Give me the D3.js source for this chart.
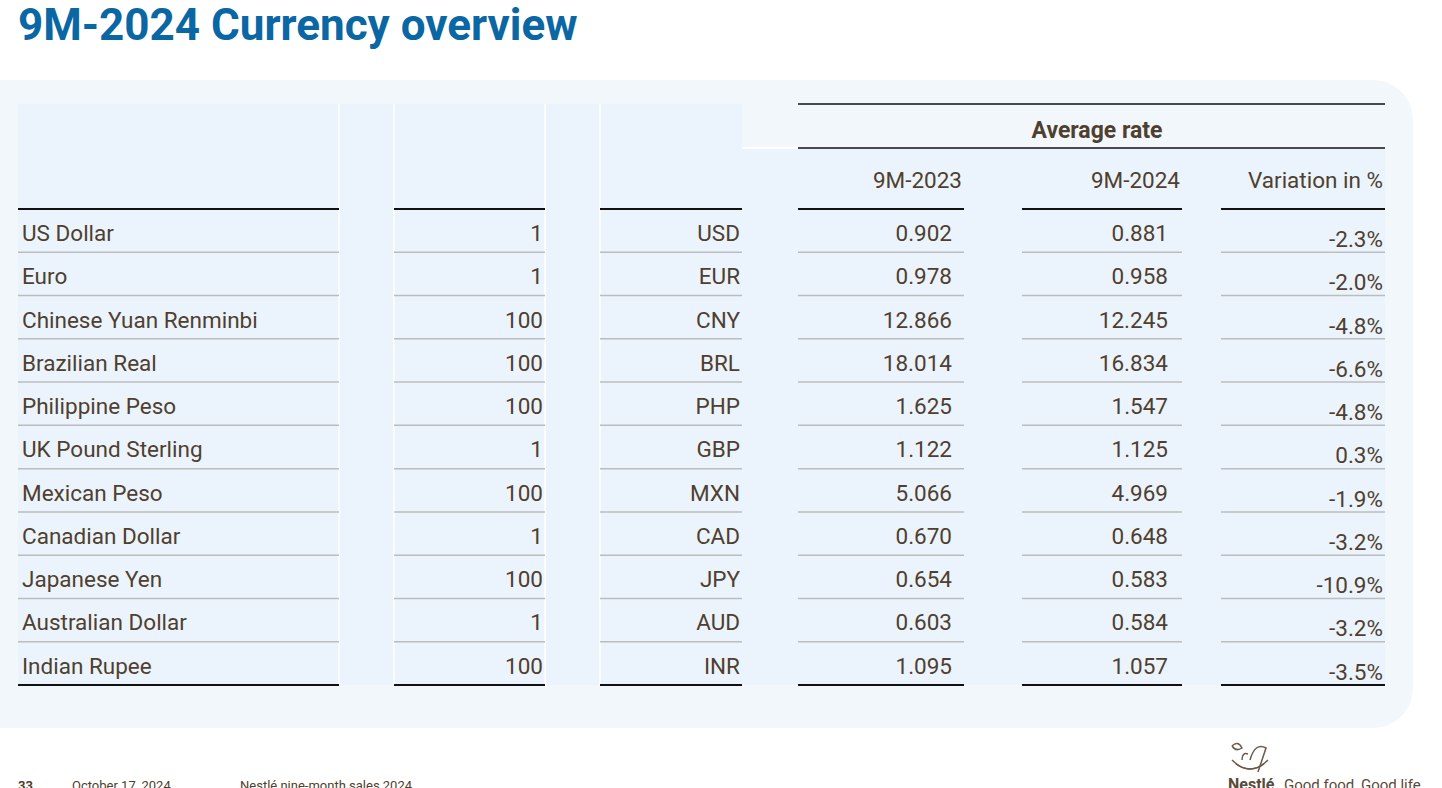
<!DOCTYPE html>
<html lang="en">
<head>
<meta charset="utf-8">
<title>9M-2024 Currency overview</title>
<style>
 body { margin: 0; background: #fff; font-family: Roboto, sans-serif; }
</style>
<script src="https://d3js.org/d3.v7.min.js"></script>
</head>
<body>
<svg id="chart" width="1442" height="788"></svg>
<script>
 // Data
 const currencies = ['US Dollar', 'Euro', 'Chinese Yuan Renminbi', 'Brazilian Real', 'Philippine Peso',
                     'UK Pound Sterling', 'Mexican Peso', 'Canadian Dollar', 'Japanese Yen', 'Australian Dollar', 'Indian Rupee'];
 const units = ['1', '1', '100', '100', '100', '1', '100', '1', '100', '1', '100'];
 const codes = ['USD', 'EUR', 'CNY', 'BRL', 'PHP', 'GBP', 'MXN', 'CAD', 'JPY', 'AUD', 'INR'];
 const rate2023 = ['0.902', '0.978', '12.866', '18.014', '1.625', '1.122', '5.066', '0.670', '0.654', '0.603', '1.095'];
 const rate2024 = ['0.881', '0.958', '12.245', '16.834', '1.547', '1.125', '4.969', '0.648', '0.583', '0.584', '1.057'];
 const variation = ['-2.3%', '-2.0%', '-4.8%', '-6.6%', '-4.8%', '0.3%', '-1.9%', '-3.2%', '-10.9%', '-3.2%', '-3.5%'];
 const rateHeaders = ['9M-2023', '9M-2024', 'Variation in %'];

 const textCol = '#4f3f2f';
 const fs = '22.5px';
 const svg = d3.select('#chart');

 // Title
 svg.append('text').attr('x', 18).attr('y', 40)
    .style('font-size', '44px').style('font-weight', 'bold').attr('fill', '#0a67a3')
    .text('9M-2024 Currency overview');

 // Panel
 svg.append('path').attr('fill', '#f2f7fc')
    .attr('d', 'M0,80 H1373 A40,40 0 0 1 1413,120 V688 A40,40 0 0 1 1373,728 H0 Z');

 // Columns
 const cols = [
   {x0: 18, x1: 339, align: 'start', data: currencies, top: 104},
   {x0: 394, x1: 545, align: 'end', data: units, top: 104},
   {x0: 600, x1: 742, align: 'end', data: codes, top: 104},
   {x0: 798, x1: 964, align: 'end', data: rate2023, top: 148, pad: 10},
   {x0: 1022, x1: 1182, align: 'end', data: rate2024, top: 148, pad: 12},
   {x0: 1221, x1: 1385, align: 'end', data: variation, top: 148, pad: 0, dy: 6}
 ];

 const y = d3.scaleBand().domain(d3.range(currencies.length)).range([209, 685]);

 // Cell backgrounds
 svg.append('rect').attr('x', 18).attr('y', 104).attr('width', 724).attr('height', 581).attr('fill', '#ebf4fc');
 svg.append('rect').attr('x', 742).attr('y', 148).attr('width', 643).attr('height', 537).attr('fill', '#ebf4fc');
 [339, 394, 545, 600].forEach(x => svg.append('line').attr('x1', x).attr('x2', x)
     .attr('y1', 104).attr('y2', 685).attr('stroke', '#fff').attr('stroke-width', 1.5));
 svg.append('line').attr('x1', 742).attr('x2', 798).attr('y1', 148).attr('y2', 148)
    .attr('stroke', '#fff').attr('stroke-width', 2);

 // Average rate header
 svg.append('line').attr('x1', 798).attr('x2', 1385).attr('y1', 104).attr('y2', 104).attr('stroke', '#111').attr('stroke-width', 1.5);
 svg.append('line').attr('x1', 798).attr('x2', 1385).attr('y1', 148).attr('y2', 148).attr('stroke', '#111').attr('stroke-width', 1.5);
 svg.append('text').attr('x', 1097).attr('y', 138).attr('text-anchor', 'middle')
    .style('font-size', '23px').style('font-weight', 'bold').attr('fill', textCol).text('Average rate');

 rateHeaders.forEach((h, i) => {
   const c = cols[3 + i];
   svg.append('text').attr('x', c.x1 - 2).attr('y', 188).attr('text-anchor', 'end')
      .style('font-size', fs).attr('fill', textCol).text(h);
 });

 // Rows
 cols.forEach(c => {
   const g = svg.append('g');
   g.append('line').attr('x1', c.x0).attr('x2', c.x1).attr('y1', 209).attr('y2', 209)
    .attr('stroke', '#111').attr('stroke-width', 2);
   c.data.forEach((v, i) => {
     const last = i === c.data.length - 1;
     const yb = y(i) + y.bandwidth();
     g.append('line').attr('x1', c.x0).attr('x2', c.x1).attr('y1', yb).attr('y2', yb)
      .attr('stroke', last ? '#111' : '#bcbcbc').attr('stroke-width', last ? 2 : 1.5);
     g.append('text')
      .attr('x', c.align === 'start' ? c.x0 + 4 : c.x1 - 2 - (c.pad || 0))
      .attr('y', y(i) + 32 + (c.dy || 0))
      .attr('text-anchor', c.align)
      .style('font-size', fs).attr('fill', textCol).text(v);
   });
 });

 // Footer
 svg.append('text').attr('x', 18).attr('y', 790).style('font-size', '13px').style('font-weight', 'bold')
    .attr('fill', textCol).text('33');
 svg.append('text').attr('x', 72).attr('y', 790).style('font-size', '13px').attr('fill', textCol).text('October 17, 2024');
 svg.append('text').attr('x', 240).attr('y', 790).style('font-size', '13px').attr('fill', textCol).text('Nestlé nine-month sales 2024');
 svg.append('text').attr('x', 1228).attr('y', 790).style('font-size', '16px').style('font-weight', 'bold')
    .attr('fill', '#5a4a3a').text('Nestlé');
 svg.append('text').attr('x', 1284).attr('y', 790).style('font-size', '15px').attr('fill', '#5a4a3a').text('Good food, Good life');
 // simple nest emblem
 const logo = svg.append('g').attr('fill', 'none').attr('stroke', '#6b5a48').attr('stroke-width', 1.5);
 logo.append('path').attr('d', 'M1232,760 Q1250,778 1268,760');
 logo.append('path').attr('d', 'M1236,764 Q1250,774 1264,764');
 logo.append('path').attr('d', 'M1250,760 Q1255,742 1266,748 Q1262,760 1258,772');
 logo.append('path').attr('d', 'M1242,760 Q1242,752 1248,754');
 logo.append('path').attr('d', 'M1232,746 Q1238,740 1242,748 Q1236,752 1232,746');
</script>
</body>
</html>
